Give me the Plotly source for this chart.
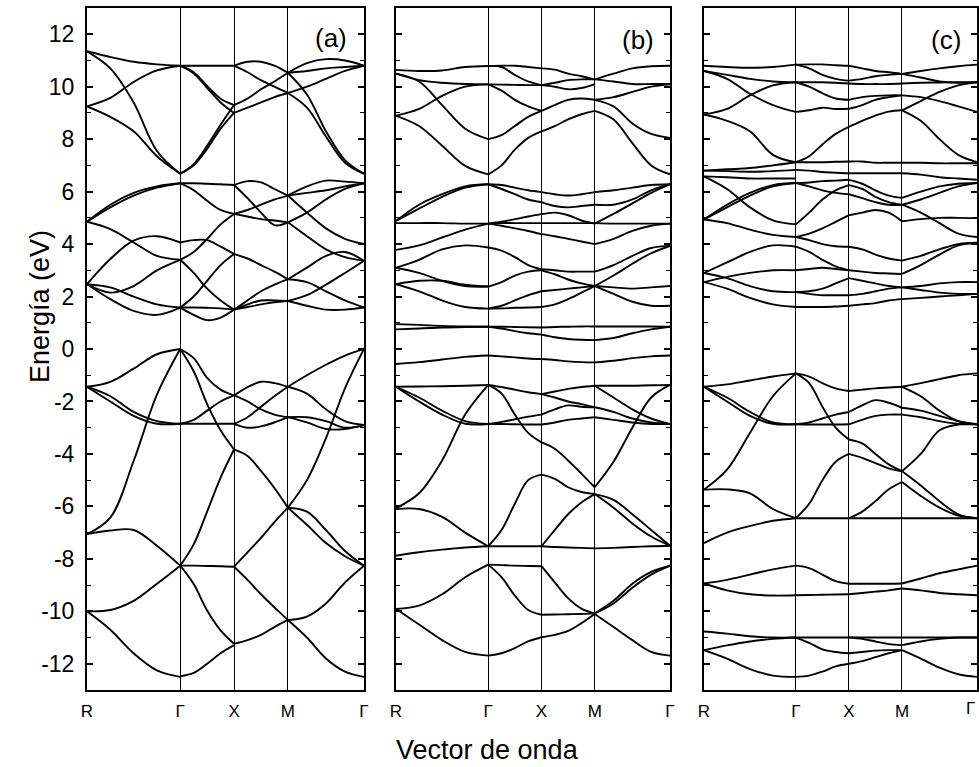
import plotly.graph_objects as go

KPOS = [0.0, 0.866, 1.366, 1.866, 2.573]
KLAB = ["R", "Γ", "X", "M", "Γ"]
FRAC = [0.0, 0.25, 0.5, 0.75, 1.0]
YMAJOR = list(range(-12, 13, 2))
YMINOR = list(range(-13, 14, 2))
PANEL_LABELS = ["(a)", "(b)", "(c)"]

# ---------------- panel (a) ----------------
A_RG = [
    [11.35, 11.13, 10.95, 10.85, 10.8],
    [11.35, 10.7, 9.4, 7.55, 6.68],
    [9.25, 9.57, 10.18, 10.62, 10.8],
    [9.25, 8.85, 8.3, 7.35, 6.68],
    [4.85, 5.5, 5.95, 6.2, 6.32],
    [4.85, 5.4, 5.85, 6.15, 6.32],
    [4.85, 4.57, 4.06, 3.55, 3.4],
    [2.47, 3.43, 4.13, 4.3, 4.06],
    [2.47, 2.15, 2.4, 3.0, 3.4],
    [2.47, 2.35, 2.0, 1.7, 1.58],
    [2.47, 1.9, 1.45, 1.3, 1.58],
    [-1.44, -1.25, -0.75, -0.2, 0.0],
    [-1.44, -2.0, -2.55, -2.85, -2.85],
    [-1.44, -1.8, -2.4, -2.75, -2.85],
    [-7.06, -6.43, -4.27, -1.74, 0.0],
    [-7.06, -6.92, -6.9, -7.5, -8.26],
    [-10.0, -9.95, -9.6, -8.95, -8.26],
    [-10.0, -10.7, -11.6, -12.25, -12.5],
]
A_GX = [
    [10.8, 10.8, 10.8, 10.8, 10.8],
    [10.8, 10.55, 10.03, 9.54, 9.3],
    [10.8, 10.5, 9.95, 9.4, 9.0],
    [6.68, 7.0, 7.63, 8.4, 9.0],
    [6.68, 7.05, 7.75, 8.55, 9.3],
    [6.32, 6.32, 6.3, 6.28, 6.25],
    [6.32, 6.05, 5.65, 5.3, 5.15],
    [4.06, 4.15, 4.15, 3.9, 3.62],
    [3.4, 3.7, 4.2, 4.75, 5.15],
    [3.4, 2.9, 2.3, 1.85, 1.5],
    [1.58, 2.0, 2.6, 3.2, 3.62],
    [1.58, 1.3, 1.1, 1.2, 1.5],
    [1.58, 1.58, 1.57, 1.55, 1.5],
    [0.0, -0.35, -1.1, -1.55, -1.77],
    [0.0, -0.85, -2.1, -3.1, -3.83],
    [-2.85, -2.85, -2.85, -2.85, -2.85],
    [-2.85, -2.7, -2.35, -2.0, -1.77],
    [-8.26, -7.45, -6.2, -4.9, -3.83],
    [-8.26, -8.26, -8.27, -8.28, -8.3],
    [-8.26, -8.96, -9.97, -10.73, -11.24],
    [-12.48, -12.35, -12.0, -11.6, -11.29],
]
A_XM = [
    [10.8, 10.95, 10.95, 10.8, 10.53],
    [10.8, 10.55, 10.25, 10.0, 9.76],
    [9.3, 9.55, 9.9, 10.2, 10.53],
    [9.0, 9.2, 9.4, 9.6, 9.76],
    [6.25, 6.4, 6.35, 6.1, 5.85],
    [6.25, 5.75, 5.2, 4.72, 4.83],
    [5.15, 5.3, 5.5, 5.7, 5.85],
    [5.15, 5.05, 4.95, 4.9, 4.83],
    [3.62, 3.45, 3.2, 2.95, 2.66],
    [1.5, 1.85, 2.2, 2.45, 2.66],
    [1.5, 1.7, 1.85, 1.85, 1.83],
    [1.5, 1.6, 1.7, 1.78, 1.83],
    [-1.77, -1.45, -1.25, -1.3, -1.44],
    [-1.77, -2.0, -2.3, -2.5, -2.6],
    [-2.85, -3.0, -2.95, -2.8, -2.6],
    [-2.85, -2.6, -2.2, -1.8, -1.44],
    [-3.83, -4.08, -4.65, -5.3, -6.05],
    [-8.3, -7.75, -7.2, -6.6, -6.05],
    [-8.3, -8.8, -9.35, -9.85, -10.33],
    [-11.24, -11.1, -10.9, -10.6, -10.33],
]
A_MG = [
    [10.53, 10.9, 11.05, 11.0, 10.8],
    [10.53, 10.6, 10.7, 10.75, 10.8],
    [9.76, 10.0, 10.3, 10.6, 10.8],
    [10.53, 9.7, 8.3, 7.2, 6.68],
    [9.76, 9.2, 8.1, 7.1, 6.68],
    [5.85, 6.2, 6.42, 6.38, 6.32],
    [5.85, 5.95, 6.05, 6.2, 6.32],
    [5.85, 5.2, 4.6, 4.2, 4.0],
    [4.83, 5.2, 5.7, 6.1, 6.32],
    [4.83, 4.3, 3.8, 3.5, 3.36],
    [2.66, 3.1, 3.55, 3.7, 3.36],
    [2.66, 2.55, 2.2, 1.85, 1.58],
    [1.83, 2.05, 2.45, 2.9, 3.36],
    [1.83, 1.65, 1.5, 1.5, 1.58],
    [-1.44, -1.0, -0.6, -0.25, 0.0],
    [-1.44, -1.7, -2.3, -2.75, -2.9],
    [-2.6, -2.6, -2.75, -3.0, -2.9],
    [-2.6, -2.8, -3.05, -3.05, -2.9],
    [-6.05, -5.0, -3.4, -1.5, 0.0],
    [-6.05, -6.2, -6.9, -7.7, -8.26],
    [-6.05, -6.7, -7.4, -7.9, -8.26],
    [-10.33, -10.2, -9.7, -8.9, -8.26],
    [-10.33, -11.0, -11.8, -12.3, -12.5],
]

# ---------------- panel (b) ----------------
B_RG = [
    [10.64, 10.6, 10.62, 10.75, 10.79],
    [10.5, 10.2, 9.3, 8.4, 8.0],
    [10.5, 10.25, 10.15, 10.1, 10.09],
    [8.89, 9.15, 9.65, 10.0, 10.09],
    [8.89, 8.5, 7.75, 6.98, 6.66],
    [4.88, 5.5, 5.9, 6.2, 6.28],
    [4.88, 5.35, 5.8, 6.15, 6.28],
    [4.8, 4.8, 4.8, 4.78, 4.78],
    [3.78, 3.95, 4.25, 4.55, 4.78],
    [3.1, 3.4, 3.8, 3.95, 3.87],
    [3.1, 2.9, 2.6, 2.4, 2.38],
    [2.47, 2.6, 2.6, 2.45, 2.38],
    [2.47, 2.2, 1.85, 1.6, 1.54],
    [0.95, 0.92, 0.88, 0.86, 0.85],
    [0.75, 0.78, 0.82, 0.84, 0.85],
    [-0.57, -0.5, -0.4, -0.3, -0.25],
    [-1.44, -1.43, -1.42, -1.4, -1.37],
    [-1.44, -1.85, -2.35, -2.75, -2.86],
    [-1.44, -2.0, -2.5, -2.85, -2.86],
    [-6.07, -5.5, -4.25, -2.5, -1.37],
    [-6.1, -6.1, -6.4, -7.0, -7.52],
    [-7.88, -7.75, -7.65, -7.57, -7.52],
    [-9.91, -9.78, -9.35, -8.7, -8.22],
    [-9.91, -10.5, -11.1, -11.55, -11.69],
]
B_GX = [
    [10.79, 10.8, 10.8, 10.75, 10.7],
    [10.79, 10.75, 10.45, 10.2, 10.06],
    [10.09, 10.08, 10.07, 10.06, 10.06],
    [10.09, 9.85, 9.5, 9.25, 9.08],
    [8.0, 8.15, 8.5, 8.85, 9.08],
    [6.66, 7.0, 7.6, 8.05, 8.3],
    [6.28, 6.25, 6.15, 6.05, 5.98],
    [6.28, 6.1, 5.9, 5.7, 5.6],
    [4.78, 4.85, 4.95, 5.05, 5.14],
    [4.78, 4.7, 4.6, 4.5, 4.38],
    [4.78, 4.8, 4.8, 4.8, 4.8],
    [3.87, 3.75, 3.5, 3.2, 3.04],
    [2.38, 2.55, 2.8, 2.95, 3.0],
    [1.54, 1.65, 1.85, 2.05, 2.2],
    [1.54, 1.55, 1.57, 1.58, 1.6],
    [0.85, 0.85, 0.84, 0.83, 0.82],
    [0.85, 0.78, 0.68, 0.6, 0.55],
    [-0.25, -0.28, -0.32, -0.36, -0.38],
    [-1.37, -1.45, -1.55, -1.65, -1.72],
    [-1.37, -1.7, -2.5, -3.2, -3.56],
    [-2.86, -2.78, -2.68, -2.58, -2.5],
    [-2.86, -2.86, -2.87, -2.88, -2.88],
    [-7.52, -6.9, -5.9, -5.0, -4.79],
    [-7.52, -7.52, -7.52, -7.52, -7.52],
    [-8.22, -8.24, -8.26, -8.27, -8.28],
    [-8.22, -8.7, -9.4, -9.95, -10.13],
    [-11.69, -11.6, -11.4, -11.15, -10.99],
]
B_XM = [
    [10.7, 10.65, 10.5, 10.4, 10.28],
    [10.06, 10.15, 10.25, 10.28, 10.28],
    [10.06, 10.0, 9.9, 9.95, 10.1],
    [9.08, 9.3, 9.5, 9.55, 9.5],
    [8.3, 8.5, 8.75, 8.95, 9.08],
    [5.98, 5.9, 5.85, 5.9, 5.98],
    [5.6, 5.45, 5.4, 5.45, 5.5],
    [5.14, 5.2, 5.1, 4.9, 4.78],
    [4.38, 4.3, 4.2, 4.1, 4.0],
    [4.8, 4.8, 4.8, 4.8, 4.8],
    [3.04, 3.0, 2.95, 2.95, 2.95],
    [3.0, 2.85, 2.65, 2.5, 2.4],
    [2.2, 2.25, 2.3, 2.35, 2.4],
    [1.6, 1.7, 1.9, 2.15, 2.4],
    [0.82, 0.84, 0.85, 0.86, 0.86],
    [0.55, 0.45, 0.38, 0.35, 0.34],
    [-0.38, -0.42, -0.47, -0.5, -0.51],
    [-1.72, -1.62, -1.52, -1.45, -1.4],
    [-2.5, -2.3, -2.15, -2.2, -2.22],
    [-1.72, -1.85, -2.0, -2.1, -2.22],
    [-2.88, -2.8, -2.7, -2.65, -2.6],
    [-3.56, -3.8, -4.25, -4.75, -5.27],
    [-4.79, -4.95, -5.27, -5.45, -5.53],
    [-7.52, -6.9, -6.3, -5.85, -5.53],
    [-7.52, -7.55, -7.57, -7.58, -7.6],
    [-8.28, -8.9, -9.5, -9.9, -10.08],
    [-10.13, -10.12, -10.11, -10.1, -10.08],
    [-10.99, -10.9, -10.75, -10.45, -10.1],
]
B_MG = [
    [10.28, 10.5, 10.7, 10.78, 10.8],
    [10.28, 10.2, 10.1, 10.1, 10.1],
    [9.5, 9.6, 9.8, 10.0, 10.09],
    [9.5, 9.25, 8.6, 8.2, 8.05],
    [9.08, 8.75, 7.85, 7.0, 6.66],
    [5.98, 6.05, 6.15, 6.25, 6.28],
    [5.5, 5.5, 5.7, 6.05, 6.28],
    [4.78, 5.15, 5.55, 5.95, 6.28],
    [4.8, 4.78, 4.78, 4.78, 4.78],
    [4.0, 4.2, 4.5, 4.7, 4.78],
    [2.95, 3.2, 3.55, 3.85, 3.93],
    [2.4, 2.8, 3.25, 3.65, 3.93],
    [2.4, 2.35, 2.3, 2.35, 2.4],
    [2.4, 2.1, 1.8, 1.65, 1.65],
    [0.86, 0.86, 0.86, 0.86, 0.85],
    [0.34, 0.42, 0.6, 0.75, 0.85],
    [-0.51, -0.45, -0.35, -0.28, -0.25],
    [-1.4, -1.4, -1.4, -1.38, -1.37],
    [-1.4, -1.85, -2.3, -2.65, -2.86],
    [-2.22, -2.4, -2.65, -2.8, -2.86],
    [-2.6, -2.7, -2.8, -2.86, -2.86],
    [-5.27, -4.3, -3.0, -1.85, -1.37],
    [-5.53, -5.75, -6.3, -6.9, -7.5],
    [-5.53, -6.05, -6.65, -7.15, -7.5],
    [-7.6, -7.58, -7.55, -7.52, -7.5],
    [-10.08, -9.6, -8.95, -8.5, -8.26],
    [-10.08, -9.7, -9.1, -8.6, -8.26],
    [-10.1, -10.6, -11.1, -11.55, -11.69],
]

# ---------------- panel (c) ----------------
C_RG = [
    [10.8, 10.75, 10.72, 10.75, 10.84],
    [10.6, 10.45, 10.3, 10.2, 10.17],
    [10.6, 10.3, 9.73, 9.3, 9.04],
    [8.94, 9.15, 9.67, 10.05, 10.17],
    [8.94, 8.7, 8.3, 7.4, 7.12],
    [6.8, 6.85, 6.9, 7.0, 7.12],
    [6.8, 6.78, 6.76, 6.78, 6.83],
    [6.58, 6.55, 6.5, 6.5, 6.5],
    [4.94, 5.5, 5.95, 6.25, 6.33],
    [4.94, 5.4, 5.85, 6.2, 6.33],
    [6.58, 6.1, 5.4, 4.9, 4.75],
    [4.94, 4.8, 4.55, 4.35, 4.27],
    [2.9, 3.3, 3.7, 3.95, 3.9],
    [2.55, 2.75, 2.9, 3.0, 3.0],
    [2.9, 2.7, 2.4, 2.2, 2.17],
    [2.55, 2.3, 1.95, 1.7, 1.6],
    [-1.44, -1.35, -1.2, -1.05, -0.93],
    [-1.44, -1.85, -2.4, -2.8, -2.87],
    [-1.44, -2.0, -2.55, -2.85, -2.87],
    [-5.36, -4.6, -3.2, -1.8, -0.93],
    [-5.36, -5.35, -5.5, -6.1, -6.45],
    [-7.4, -7.0, -6.75, -6.55, -6.45],
    [-8.94, -8.8, -8.6, -8.4, -8.26],
    [-8.94, -9.2, -9.35, -9.4, -9.39],
    [-10.77, -10.85, -10.95, -11.0, -11.0],
    [-11.48, -11.3, -11.15, -11.05, -11.0],
    [-11.48, -11.8, -12.2, -12.45, -12.5],
]
C_GX = [
    [10.84, 10.85, 10.85, 10.82, 10.8],
    [10.84, 10.7, 10.45, 10.3, 10.23],
    [10.17, 10.17, 10.17, 10.15, 10.12],
    [10.17, 10.0, 9.75, 9.55, 9.5],
    [9.04, 9.1, 9.2, 9.15, 9.16],
    [7.12, 7.35, 7.8, 8.2, 8.47],
    [7.12, 7.12, 7.12, 7.14, 7.15],
    [6.83, 6.8, 6.75, 6.72, 6.7],
    [6.33, 6.35, 6.4, 6.42, 6.45],
    [6.33, 6.2, 6.05, 5.95, 5.9],
    [4.75, 5.2, 5.7, 6.05, 6.25],
    [4.27, 4.4, 4.6, 4.85, 5.1],
    [4.27, 4.15, 4.0, 3.92, 3.9],
    [3.9, 3.7, 3.4, 3.15, 3.0],
    [3.0, 3.05, 3.1, 3.05, 3.0],
    [2.17, 2.2, 2.3, 2.5, 2.7],
    [2.17, 2.1, 2.05, 2.05, 2.05],
    [1.6, 1.6, 1.6, 1.62, 1.65],
    [-0.93, -1.05, -1.3, -1.5, -1.6],
    [-0.93, -1.3, -2.2, -3.0, -3.45],
    [-2.87, -2.8, -2.65, -2.5, -2.4],
    [-2.87, -2.88, -2.88, -2.88, -2.87],
    [-6.45, -5.9, -5.0, -4.3, -4.0],
    [-6.45, -6.45, -6.45, -6.45, -6.45],
    [-8.26, -8.35, -8.6, -8.85, -8.95],
    [-9.39, -9.38, -9.37, -9.36, -9.35],
    [-11.0, -11.0, -11.0, -11.0, -11.0],
    [-11.0, -11.2, -11.45, -11.55, -11.6],
    [-12.5, -12.45, -12.3, -12.1, -12.0],
]
C_XM = [
    [10.8, 10.7, 10.6, 10.55, 10.49],
    [10.23, 10.3, 10.4, 10.45, 10.49],
    [10.12, 10.1, 10.1, 10.1, 10.12],
    [9.5, 9.6, 9.65, 9.67, 9.67],
    [9.16, 9.3, 9.5, 9.6, 9.67],
    [8.47, 8.7, 8.9, 9.05, 9.1],
    [7.15, 7.15, 7.1, 7.1, 7.1],
    [6.7, 6.7, 6.7, 6.7, 6.7],
    [6.45, 6.3, 6.05, 5.85, 5.76],
    [5.9, 5.75, 5.6, 5.5, 5.5],
    [6.25, 6.1, 5.8, 5.6, 5.5],
    [5.1, 5.2, 5.3, 5.2, 4.87],
    [3.9, 3.8, 3.6, 3.45, 3.37],
    [3.0, 2.95, 2.9, 2.88, 2.86],
    [2.7, 2.6, 2.5, 2.4, 2.35],
    [2.05, 2.1, 2.2, 2.3, 2.35],
    [1.65, 1.7, 1.75, 1.85, 1.9],
    [-1.6, -1.55, -1.5, -1.47, -1.44],
    [-2.4, -2.15, -1.95, -2.05, -2.24],
    [-2.87, -2.7, -2.55, -2.5, -2.5],
    [-3.45, -3.6, -4.0, -4.4, -4.66],
    [-4.0, -4.15, -4.35, -4.55, -4.66],
    [-6.45, -6.2, -5.8, -5.35, -5.07],
    [-6.45, -6.45, -6.45, -6.45, -6.45],
    [-8.95, -8.95, -8.95, -8.95, -8.94],
    [-9.35, -9.3, -9.25, -9.2, -9.13],
    [-11.0, -11.0, -11.0, -11.0, -11.0],
    [-11.0, -11.05, -11.15, -11.25, -11.29],
    [-11.6, -11.55, -11.5, -11.48, -11.48],
    [-12.0, -11.9, -11.75, -11.6, -11.48],
]
C_MG = [
    [10.49, 10.6, 10.7, 10.78, 10.84],
    [10.49, 10.35, 10.2, 10.15, 10.17],
    [10.12, 10.15, 10.16, 10.17, 10.17],
    [9.1, 9.45, 9.8, 10.05, 10.17],
    [9.1, 8.7, 8.0, 7.4, 7.12],
    [9.67, 9.6, 9.45, 9.25, 9.04],
    [7.1, 7.1, 7.08, 7.08, 7.08],
    [6.7, 6.65, 6.55, 6.5, 6.45],
    [5.76, 6.0, 6.2, 6.3, 6.33],
    [5.5, 5.7, 5.95, 6.2, 6.33],
    [5.5, 5.2, 4.8, 4.4, 4.27],
    [4.87, 4.95, 5.0, 5.0, 4.99],
    [3.37, 3.55, 3.8, 4.0, 4.05],
    [2.86, 3.2, 3.6, 3.95, 4.05],
    [2.35, 2.4, 2.5, 2.55, 2.55],
    [1.9, 1.95, 2.0, 2.05, 2.1],
    [2.35, 2.25, 2.15, 2.1, 2.1],
    [-1.44, -1.3, -1.15, -1.0, -0.93],
    [-1.44, -1.8, -2.35, -2.75, -2.87],
    [-2.24, -2.35, -2.55, -2.75, -2.87],
    [-2.5, -2.6, -2.75, -2.85, -2.87],
    [-4.66, -4.0, -3.1, -2.88, -2.87],
    [-5.07, -5.6, -6.05, -6.35, -6.45],
    [-4.66, -5.2, -5.8, -6.3, -6.45],
    [-6.45, -6.45, -6.45, -6.45, -6.45],
    [-8.94, -8.75, -8.55, -8.4, -8.26],
    [-9.13, -9.2, -9.3, -9.35, -9.39],
    [-11.0, -11.0, -11.0, -11.0, -11.0],
    [-11.29, -11.15, -11.05, -11.0, -11.0],
    [-11.48, -11.8, -12.15, -12.4, -12.5],
]

PANELS = [
    (A_RG, A_GX, A_XM, A_MG),
    (B_RG, B_GX, B_XM, B_MG),
    (C_RG, C_GX, C_XM, C_MG),
]


def build(segs):
    xs, ys = [], []
    for si, seg in enumerate(segs):
        x0, x1 = KPOS[si], KPOS[si + 1]
        for curve in seg:
            xs += [x0 + f * (x1 - x0) for f in FRAC] + [None]
            ys += list(curve) + [None]
    return xs, ys


W, H = 979, 767
XDOM = [(87 / W, 364 / W), (396 / W, 670 / W), (704 / W, 977 / W)]
YDOM = ((H - 690) / H, (H - 8) / H)
LABEL_POS = [(331, 38), (638, 40), (946, 40)]

NARROW = "Liberation Sans Narrow, Arial Narrow, Liberation Sans, Arial, sans-serif"
SANS = "Liberation Sans, Arial, Helvetica, sans-serif"

fig = go.Figure()
for i, segs in enumerate(PANELS):
    xs, ys = build(segs)
    sfx = "" if i == 0 else str(i + 1)
    fig.add_trace(go.Scatter(
        x=xs, y=ys, mode="lines", xaxis="x" + sfx, yaxis="y" + sfx,
        line=dict(color="black", width=1.9, shape="spline", smoothing=1.0),
        connectgaps=False, showlegend=False, hoverinfo="skip"))

layout = dict(
    width=W, height=H, margin=dict(l=0, r=0, t=0, b=0),
    paper_bgcolor="white", plot_bgcolor="white", showlegend=False,
    annotations=[],
)
for i in range(3):
    sfx = "" if i == 0 else str(i + 1)
    # last panel: its final Γ label sits on the page edge, drawn below as annotation
    tv = KPOS if i < 2 else KPOS[:-1]
    tt = KLAB if i < 2 else KLAB[:-1]
    layout["xaxis" + sfx] = dict(
        domain=list(XDOM[i]), range=[KPOS[0], KPOS[-1]], anchor="y" + sfx,
        tickmode="array", tickvals=tv, ticktext=tt, ticks="",
        showgrid=True, gridcolor="black", gridwidth=1.3,
        showline=True, linecolor="black", linewidth=2, mirror=True,
        zeroline=False, automargin=False, ticklabelstandoff=5,
        tickfont=dict(family=NARROW, size=17, color="black"),
    )
    layout["yaxis" + sfx] = dict(
        domain=list(YDOM), range=[-13, 13], anchor="x" + sfx,
        tickmode="array", tickvals=YMAJOR,
        ticktext=[str(v) for v in YMAJOR], showticklabels=(i == 0),
        ticks="inside", ticklen=6, tickwidth=1.5, tickcolor="black",
        minor=dict(tickmode="array", tickvals=YMINOR, ticks="inside",
                   ticklen=4, tickwidth=1.2, tickcolor="black"),
        showline=True, linecolor="black", linewidth=2, mirror="allticks",
        showgrid=False, zeroline=False, automargin=False,
        ticklabelstandoff=6,
        tickfont=dict(family=SANS, size=23, color="black"),
    )
    lx, ly = LABEL_POS[i]
    layout["annotations"].append(dict(
        x=lx / W, y=1 - ly / H, xref="paper", yref="paper", text=PANEL_LABELS[i],
        showarrow=False, font=dict(family=SANS, size=26, color="black"),
        xanchor="center", yanchor="middle"))

layout["annotations"].append(dict(
    x=KPOS[-1], y=1 - 708 / H, xref="x3", yref="paper", text=KLAB[-1],
    showarrow=False, font=dict(family=NARROW, size=17, color="black"),
    xanchor="right", yanchor="middle"))
layout["annotations"].append(dict(
    x=40 / W, y=1 - 307 / H, xref="paper", yref="paper", text="Energía (eV)",
    textangle=-90, showarrow=False, font=dict(family=SANS, size=27, color="black"),
    xanchor="center", yanchor="middle"))
layout["annotations"].append(dict(
    x=487 / W, y=1 - 750 / H, xref="paper", yref="paper", text="Vector de onda",
    showarrow=False, font=dict(family=NARROW, size=27, color="black"),
    xanchor="center", yanchor="middle"))

fig.update_layout(**layout)
fig.write_html("out.html")
